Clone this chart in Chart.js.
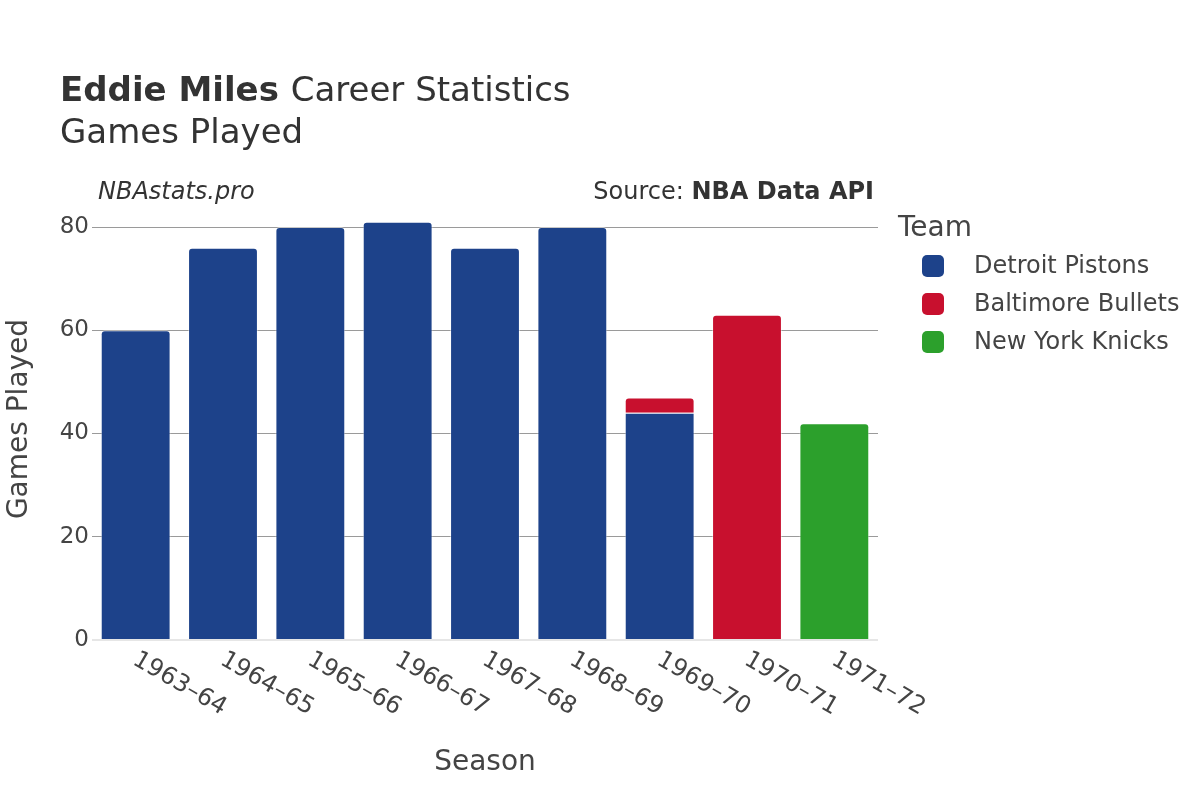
<!DOCTYPE html>
<html>
<head>
<meta charset="utf-8">
<script src="https://cdn.jsdelivr.net/npm/chart.js@4"></script>
<style>
  body { margin: 0; background: #fff; }
  #chart { display: block; }
</style>
</head>
<body>
<canvas id="chart" width="1200" height="800"></canvas>
<script>
// seasons and games played per team
const seasons = ['1963–64', '1964–65', '1965–66', '1966–67', '1967–68', '1968–69', '1969–70', '1970–71', '1971–72']
const detroit = [60, 76, 80, 81, 76, 80, 44, null, null]
const baltimore = [null, null, null, null, null, null, 3, 63, null]
const knicks = [null, null, null, null, null, null, null, null, 42]
const yTicks = [0, 20, 40, 60, 80]

const teams = [
  { label: 'Detroit Pistons', data: detroit, color: '#1d428a' },
  { label: 'Baltimore Bullets', data: baltimore, color: '#c8102e' },
  { label: 'New York Knicks', data: knicks, color: '#2ca02c' },
]

const font = '"DejaVu Sans", sans-serif'
const textColor = '#444'

// round the top only on the highest segment of a stack
function topRadius(ctx) {
  const i = ctx.dataIndex
  for (let d = ctx.datasetIndex + 1; d < teams.length; d++) {
    if (teams[d].data[i]) return 0
  }
  return { topLeft: 4, topRight: 4, bottomLeft: 0, bottomRight: 0 }
}

const textPlugin = {
  id: 'texts',
  afterDraw(chart) {
    const c = chart.ctx
    const area = chart.chartArea
    c.save()
    c.fillStyle = '#333'
    c.textBaseline = 'alphabetic'
    c.textAlign = 'left'

    // title
    c.font = 'bold 34px ' + font
    c.fillText('Eddie Miles', 60, 101)
    let w = c.measureText('Eddie Miles ').width
    c.font = '34px ' + font
    c.fillText('Career Statistics', 60 + w, 101)
    c.fillText('Games Played', 60, 143)

    // watermark and source
    c.font = 'italic 24px ' + font
    c.fillText('NBAstats.pro', 98, 199)
    c.textAlign = 'right'
    c.font = 'bold 24px ' + font
    c.fillText('NBA Data API', 874, 199)
    w = c.measureText('NBA Data API').width
    c.font = '24px ' + font
    c.fillText('Source: ', 874 - w, 199)

    // x tick labels, rotated down-right
    const xs = chart.scales.x
    c.fillStyle = textColor
    c.font = '24px ' + font
    c.textAlign = 'left'
    c.textBaseline = 'middle'
    seasons.forEach((s, i) => {
      c.save()
      c.translate(xs.getPixelForTick(i) - 1, 658)
      c.rotate(Math.PI / 6)
      c.fillText(s, 0, 0)
      c.restore()
    })

    // axis titles
    c.font = '28px ' + font
    c.textAlign = 'center'
    c.textBaseline = 'alphabetic'
    c.fillText('Season', (area.left + area.right) / 2, 770)
    c.save()
    c.translate(27, 419)
    c.rotate(-Math.PI / 2)
    c.fillText('Games Played', 0, 0)
    c.restore()

    // legend
    c.textAlign = 'left'
    c.font = '28px ' + font
    c.fillText('Team', 898, 236)
    c.font = '24px ' + font
    c.textBaseline = 'middle'
    teams.forEach((t, i) => {
      const y = 266 + i * 38
      c.fillStyle = t.color
      c.beginPath()
      c.roundRect(922, y - 11, 22, 22, 5)
      c.fill()
      c.fillStyle = textColor
      c.fillText(t.label, 974, y + 1)
    })
    c.restore()
  }
}

const chart = new Chart(document.getElementById('chart'), {
  type: 'bar',
  data: {
    labels: seasons,
    datasets: teams.map(t => ({
      label: t.label,
      data: t.data,
      backgroundColor: t.color,
      borderColor: 'rgba(255,255,255,0.45)',
      borderWidth: 1,
      borderSkipped: 'bottom',
      borderRadius: topRadius,
      categoryPercentage: 1,
      barPercentage: 0.8,
    }))
  },
  options: {
    responsive: false,
    animation: false,
    layout: { padding: { top: 210, right: 322, left: 0, bottom: 0 } },
    plugins: {
      legend: { display: false },
      tooltip: { enabled: false },
    },
    scales: {
      x: {
        stacked: true,
        grid: { display: false },
        border: { display: false },
        ticks: { display: false },
        afterFit(scale) { scale.height = 160 },
      },
      y: {
        stacked: true,
        min: 0,
        max: 83.3,
        afterBuildTicks(scale) { scale.ticks = yTicks.map(v => ({ value: v })) },
        afterFit(scale) { scale.width = 92 },
        border: { display: false },
        grid: {
          drawTicks: false,
          color: ctx => ctx.tick && ctx.tick.value === 0 ? '#e6e6e6' : '#9a9a9a',
          lineWidth: ctx => ctx.tick && ctx.tick.value === 0 ? 2 : 1,
        },
        ticks: {
          padding: 3,
          color: textColor,
          font: { family: font, size: 23 },
        },
      },
    },
  },
  plugins: [textPlugin],
})
</script>
</body>
</html>
